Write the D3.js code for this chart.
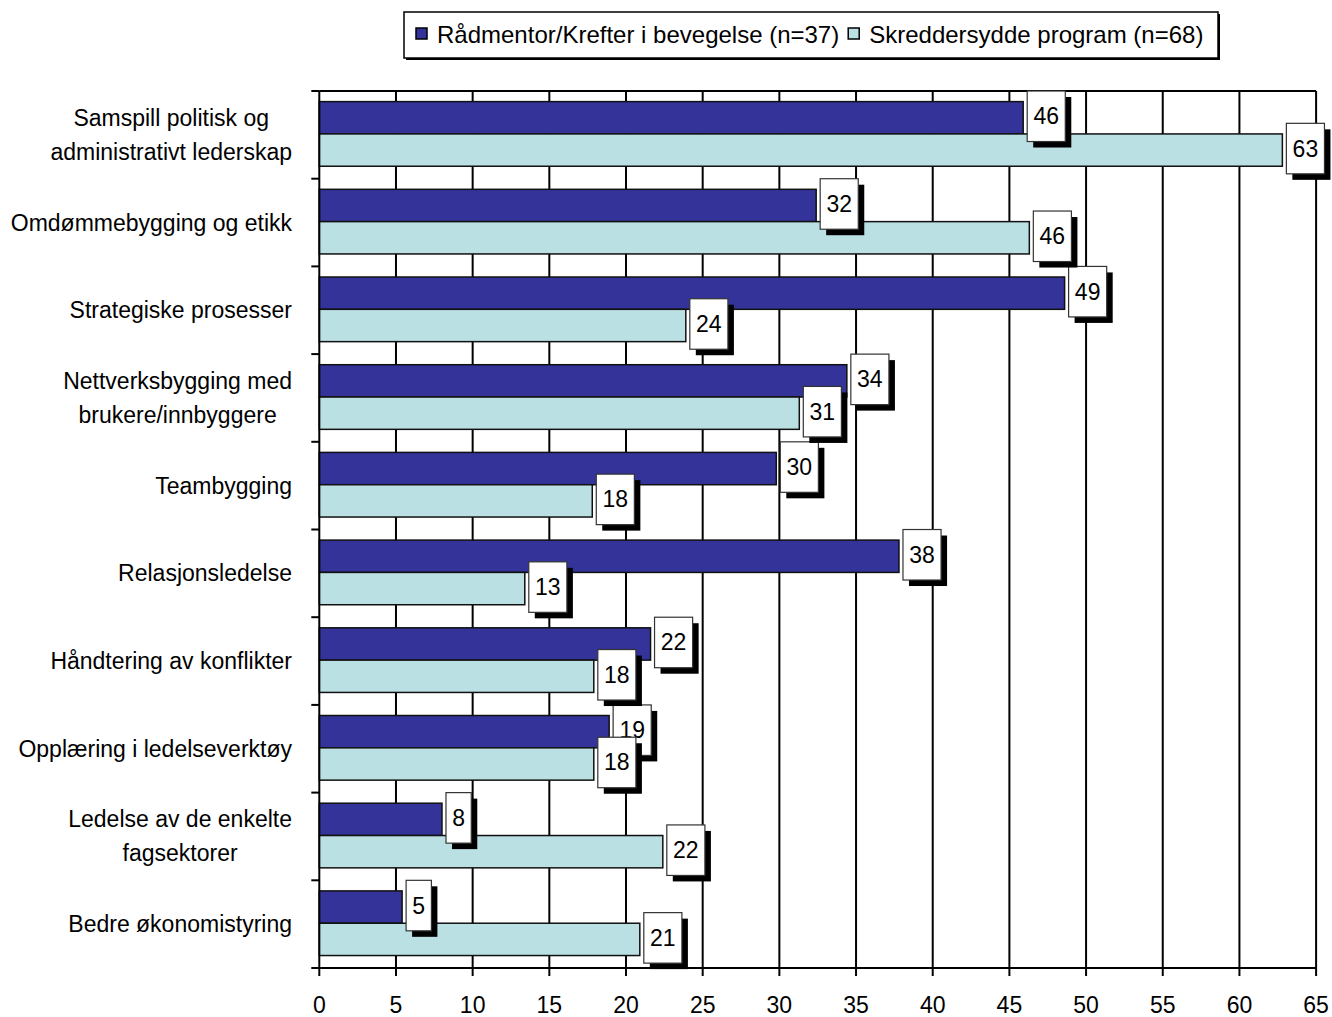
<!DOCTYPE html>
<html>
<head>
<meta charset="utf-8">
<script src="https://d3js.org/d3.v7.min.js"></script>
<style>
  body { margin: 0; background: #fff; }
  text { font-family: "Liberation Sans", Arial, sans-serif; }
</style>
</head>
<body>
<div id="svg"></div>
<script>
// data
var categories = [
    "Samspill politisk og\nadministrativt lederskap",
    "Omdømmebygging og etikk",
    "Strategiske prosesser",
    "Nettverksbygging med\nbrukere/innbyggere",
    "Teambygging",
    "Relasjonsledelse",
    "Håndtering av konflikter",
    "Opplæring i ledelseverktøy",
    "Ledelse av de enkelte\nfagsektorer",
    "Bedre økonomistyring"
];
var seriesNames = ["Rådmentor/Krefter i bevegelse (n=37)", "Skreddersydde program (n=68)"];
var seriesColors = ["#333399", "#bbe0e3"];
var raadmentor = [45.9, 32.4, 48.6, 34.4, 29.8, 37.8, 21.6, 18.9, 8.0, 5.4];
var skreddersydd = [62.8, 46.3, 23.9, 31.3, 17.8, 13.4, 17.9, 17.9, 22.4, 20.9];
var xTicks = [0, 5, 10, 15, 20, 25, 30, 35, 40, 45, 50, 55, 60, 65];

var W = 1332, H = 1017;
var plot = { left: 319.3, right: 1316.1, top: 91, bottom: 968 };
var fontSize = 23;

var svg = d3.select("#svg").append("svg")
    .attr("width", W)
    .attr("height", H);

// set the ranges
var x = d3.scaleLinear()
    .domain([0, 65])
    .range([plot.left, plot.right]);

var y = d3.scaleBand()
    .domain(categories)
    .range([plot.top, plot.bottom])
    .padding(0);

var ySub = d3.scaleBand()
    .domain([0, 1])
    .range([0, y.bandwidth()])
    .paddingInner(0)
    .paddingOuter(0.357)
    .align(0.46);

var rows = categories.map(function(c, i) {
    return { cat: c, values: [raadmentor[i], skreddersydd[i]] };
});

// vertical gridlines
svg.append("g").selectAll("line")
    .data(xTicks.slice(1))
    .enter().append("line")
    .attr("x1", function(d) { return x(d); })
    .attr("x2", function(d) { return x(d); })
    .attr("y1", plot.top)
    .attr("y2", plot.bottom)
    .style("stroke", "#000")
    .style("stroke-width", 2);

// top border of plot
svg.append("line")
    .attr("x1", plot.left).attr("x2", plot.right)
    .attr("y1", plot.top).attr("y2", plot.top)
    .style("stroke", "#000").style("stroke-width", 2);

// bars
var groups = svg.append("g").selectAll("g")
    .data(rows)
    .enter().append("g")
    .attr("transform", function(d) { return "translate(0," + y(d.cat) + ")"; });

groups.selectAll("rect")
    .data(function(d) { return d.values; })
    .enter().append("rect")
    .attr("x", x(0))
    .attr("y", function(d, i) { return ySub(i); })
    .attr("width", function(d) { return x(d) - x(0); })
    .attr("height", ySub.bandwidth())
    .style("fill", function(d, i) { return seriesColors[i]; })
    .style("stroke", "#111")
    .style("stroke-width", 1.5);

// x axis
var xAxis = svg.append("g");
xAxis.append("line")
    .attr("x1", plot.left).attr("x2", plot.right)
    .attr("y1", plot.bottom).attr("y2", plot.bottom)
    .style("stroke", "#000").style("stroke-width", 2);
xAxis.selectAll(".tick")
    .data(xTicks)
    .enter().append("line")
    .attr("x1", function(d) { return x(d); })
    .attr("x2", function(d) { return x(d); })
    .attr("y1", plot.bottom)
    .attr("y2", plot.bottom + 8)
    .style("stroke", "#000").style("stroke-width", 2);
xAxis.selectAll("text")
    .data(xTicks)
    .enter().append("text")
    .attr("x", function(d) { return x(d); })
    .attr("y", plot.bottom + 45)
    .attr("text-anchor", "middle")
    .style("font-size", fontSize + "px")
    .text(function(d) { return d; });

// y axis
var yAxis = svg.append("g");
yAxis.append("line")
    .attr("x1", plot.left).attr("x2", plot.left)
    .attr("y1", plot.top).attr("y2", plot.bottom)
    .style("stroke", "#000").style("stroke-width", 2);
yAxis.selectAll("line.tk")
    .data(categories.map(function(c) { return y(c); }).concat([plot.bottom]))
    .enter().append("line")
    .attr("class", "tk")
    .attr("x1", plot.left - 8).attr("x2", plot.left)
    .attr("y1", function(d) { return d; })
    .attr("y2", function(d) { return d; })
    .style("stroke", "#000").style("stroke-width", 2);

// category labels, centred block flushed to the right
var labelRight = 292;
var lineH = 34;
categories.forEach(function(c) {
    var lines = c.split("\n");
    var cy = y(c) + y.bandwidth() / 2;
    var g = yAxis.append("g");
    var texts = g.selectAll("text")
        .data(lines)
        .enter().append("text")
        .attr("y", function(d, i) { return cy + (i - (lines.length - 1) / 2) * lineH + 8; })
        .attr("text-anchor", "middle")
        .style("font-size", fontSize + "px")
        .text(function(d) { return d; });
    var maxW = 0;
    texts.each(function() { maxW = Math.max(maxW, this.getComputedTextLength()); });
    texts.attr("x", labelRight - maxW / 2);
});

// value labels with shadow, dark series first then light
var boxH = 50.5;
[0, 1].forEach(function(s) {
    rows.forEach(function(r) {
        var v = r.values[s];
        var lbl = Math.round(v);
        var cy = y(r.cat) + ySub(s) + ySub.bandwidth() / 2 - 1.5;
        var g = svg.append("g");
        var t = g.append("text")
            .attr("y", cy + 8)
            .attr("text-anchor", "middle")
            .style("font-size", fontSize + "px")
            .text(lbl);
        var tw = t.node().getComputedTextLength();
        var bw = tw + 12.5;
        var bx = x(v) + 4;
        g.insert("rect", "text")
            .attr("x", bx + 6).attr("y", cy - boxH / 2 + 6)
            .attr("width", bw).attr("height", boxH)
            .style("fill", "#000");
        g.insert("rect", "text")
            .attr("x", bx).attr("y", cy - boxH / 2)
            .attr("width", bw).attr("height", boxH)
            .style("fill", "#fff")
            .style("stroke", "#333")
            .style("stroke-width", 1.2);
        t.attr("x", bx + bw / 2);
    });
});

// legend
var legend = svg.append("g");
legend.append("rect")
    .attr("x", 406).attr("y", 14)
    .attr("width", 814).attr("height", 46)
    .style("fill", "#000");
legend.append("rect")
    .attr("x", 404).attr("y", 12)
    .attr("width", 814).attr("height", 46)
    .style("fill", "#fff")
    .style("stroke", "#000")
    .style("stroke-width", 1.5);
var lx = 416;
seriesNames.forEach(function(name, i) {
    legend.append("rect")
        .attr("x", lx).attr("y", 28)
        .attr("width", 11).attr("height", 11)
        .style("fill", seriesColors[i])
        .style("stroke", "#000")
        .style("stroke-width", 1.5);
    var t = legend.append("text")
        .attr("x", lx + 21).attr("y", 43)
        .style("font-size", "24px")
        .text(name);
    lx = lx + 21 + t.node().getComputedTextLength() + 9;
});
</script>
</body>
</html>
